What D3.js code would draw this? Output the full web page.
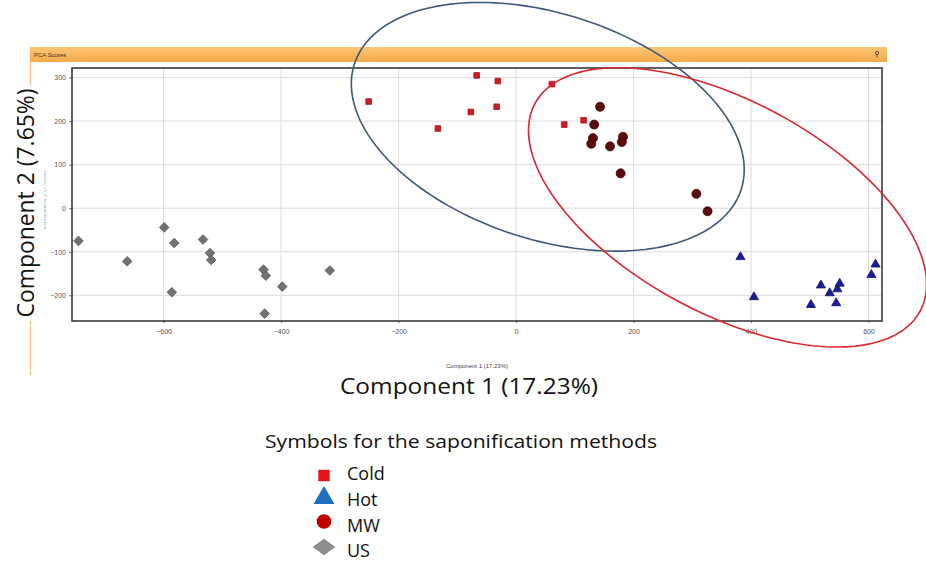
<!DOCTYPE html>
<html>
<head>
<meta charset="utf-8">
<script src="https://cdn.jsdelivr.net/npm/d3@7/dist/d3.min.js"></script>
<style>
  body { margin: 0; background: #fff; }
  svg { display: block; }
</style>
</head>
<body>
<script>
// PCA scores: [Component 1, Component 2]
const cold = [[-251, 245], [-133, 183], [-77, 221], [-67, 305], [-31, 292], [-33, 233], [61, 285], [82, 192], [115, 202]];
const hot = [[382, -112], [405, -204], [502, -222], [519, -177], [534, -195], [545, -218], [547, -186], [551, -173], [605, -153], [612, -129]];
const mw = [[143, 233], [133, 192], [131, 161], [128, 148], [160, 142], [182, 164], [180, 152], [178, 80], [307, 33], [326, -7]];
const us = [[-745, -75], [-662, -122], [-599, -44], [-582, -80], [-586, -193], [-533, -72], [-521, -103], [-519, -119],
            [-430, -141], [-426, -155], [-398, -180], [-428, -242], [-317, -143]];

const xTicks = [-600, -400, -200, 0, 200, 400, 600];
const yTicks = [-200, -100, 0, 100, 200, 300];

// grouping ellipses: centre and two conjugate semi-axis vectors, in data units
const ellipses = [
  { c: [54, 187], u: [329, -145], v: [-60, -246], color: "#3f5878" },
  { c: [360, 2], u: [328, -238], v: [-85, -215], color: "#d8262e" }
];

const legendNames = ["Cold", "Hot", "MW", "US"];

const w = 926, h = 565;
const svg = d3.select("body").append("svg").attr("width", w).attr("height", h);

const xScale = d3.scaleLinear().domain([-756, 623]).range([72, 882]);
const yScale = d3.scaleLinear().domain([-259, 322]).range([321, 68]);

// panel chrome
const grad = svg.append("defs").append("linearGradient")
  .attr("id", "bar").attr("x1", 0).attr("y1", 0).attr("x2", 0).attr("y2", 1);
grad.append("stop").attr("offset", "0%").attr("stop-color", "#fcc674");
grad.append("stop").attr("offset", "100%").attr("stop-color", "#f6a94a");

svg.append("line")
  .attr("x1", 30.5).attr("x2", 30.5).attr("y1", 47).attr("y2", 375)
  .attr("stroke", "#f6c57f").attr("stroke-width", 1.5);
svg.append("rect")
  .attr("x", 30).attr("y", 47).attr("width", 857).attr("height", 15)
  .attr("fill", "url(#bar)");
svg.append("text")
  .attr("x", 34).attr("y", 57)
  .attr("font-family", "Liberation Sans, sans-serif").attr("font-size", 6)
  .attr("fill", "#333").text("PCA Scores");
// pin icon
svg.append("circle").attr("cx", 877).attr("cy", 53).attr("r", 1.6)
  .attr("fill", "none").attr("stroke", "#333").attr("stroke-width", 0.8);
svg.append("line").attr("x1", 877).attr("x2", 877).attr("y1", 54.6).attr("y2", 57.5)
  .attr("stroke", "#333").attr("stroke-width", 0.8);

// grid
svg.append("g").selectAll("line").data(xTicks).enter().append("line")
  .attr("x1", d => xScale(d)).attr("x2", d => xScale(d))
  .attr("y1", yScale.range()[0]).attr("y2", yScale.range()[1])
  .attr("stroke", "#dcdcdc").attr("stroke-width", 1);
svg.append("g").selectAll("line").data(yTicks).enter().append("line")
  .attr("x1", xScale.range()[0]).attr("x2", xScale.range()[1])
  .attr("y1", d => yScale(d)).attr("y2", d => yScale(d))
  .attr("stroke", "#dcdcdc").attr("stroke-width", 1);

// axes
const xAxis = svg.append("g")
  .attr("transform", "translate(0," + yScale.range()[0] + ")")
  .call(d3.axisBottom(xScale).tickValues(xTicks).tickSize(2).tickSizeOuter(0));
const yAxis = svg.append("g")
  .attr("transform", "translate(" + xScale.range()[0] + ",0)")
  .call(d3.axisLeft(yScale).tickValues(yTicks).tickSize(3).tickSizeOuter(0));
[xAxis, yAxis].forEach(a => {
  a.select(".domain").remove();
  a.selectAll("text").attr("font-family", "Liberation Sans, sans-serif")
    .attr("font-size", 7).attr("fill", "#555");
  a.selectAll("line").attr("stroke", "#777");
});
xAxis.selectAll("text").attr("dy", "1.2em");

// frame
svg.append("rect")
  .attr("x", xScale.range()[0]).attr("y", yScale.range()[1])
  .attr("width", xScale.range()[1] - xScale.range()[0])
  .attr("height", yScale.range()[0] - yScale.range()[1])
  .attr("fill", "none").attr("stroke", "#3a3a3a").attr("stroke-width", 1.6);

// small axis titles
svg.append("text")
  .attr("x", 477).attr("y", 368).attr("text-anchor", "middle")
  .attr("font-family", "Liberation Sans, sans-serif").attr("font-size", 6)
  .attr("fill", "#444").text("Component 1 (17.23%)");
svg.append("text")
  .attr("transform", "translate(46,200) rotate(-90)").attr("text-anchor", "middle")
  .attr("font-family", "Liberation Sans, sans-serif").attr("font-size", 6)
  .attr("fill", "#999").text("Component 2 (7.65%)");

// points
function draw(data, type, size, fill, stroke, rot) {
  svg.append("g").selectAll("path").data(data).enter().append("path")
    .attr("d", d3.symbol().type(type).size(size))
    .attr("transform", d => "translate(" + xScale(d[0]) + "," + yScale(d[1]) + ")" + (rot ? " rotate(45)" : ""))
    .attr("fill", fill).attr("stroke", stroke).attr("stroke-width", 0.8);
}
draw(us, d3.symbolSquare, 46, "#727272", "#5a5a5a", true);
draw(cold, d3.symbolSquare, 32, "#cc1c25", "#a8141c", false);
draw(mw, d3.symbolCircle, 64, "#5c0a0c", "#3e0506", false);
draw(hot, d3.symbolTriangle, 36, "#1c1c96", "#10106e", false);

// ellipses
const line = d3.line().x(d => xScale(d[0])).y(d => yScale(d[1])).curve(d3.curveLinearClosed);
ellipses.forEach(e => {
  const pts = d3.range(0, 360, 2).map(a => {
    const t = a * Math.PI / 180;
    return [e.c[0] + e.u[0] * Math.cos(t) + e.v[0] * Math.sin(t),
            e.c[1] + e.u[1] * Math.cos(t) + e.v[1] * Math.sin(t)];
  });
  svg.append("path").attr("d", line(pts))
    .attr("fill", "none").attr("stroke", e.color).attr("stroke-width", 1.6);
});

// big axis titles
svg.append("rect").attr("x", 8).attr("y", 85).attr("width", 36).attr("height", 236).attr("fill", "#fff");
svg.append("text")
  .attr("transform", "translate(34,203) rotate(-90)").attr("text-anchor", "middle")
  .attr("font-family", "Open Sans, sans-serif").attr("font-size", 24)
  .attr("textLength", 229).attr("lengthAdjust", "spacingAndGlyphs")
  .attr("fill", "#111").text("Component 2 (7.65%)");
svg.append("text")
  .attr("x", 469).attr("y", 394).attr("text-anchor", "middle")
  .attr("font-family", "Open Sans, sans-serif").attr("font-size", 21)
  .attr("textLength", 258).attr("lengthAdjust", "spacingAndGlyphs")
  .attr("fill", "#111").text("Component 1 (17.23%)");

// legend
svg.append("text")
  .attr("x", 265).attr("y", 448)
  .attr("font-family", "Open Sans, sans-serif").attr("font-size", 19)
  .attr("textLength", 392).attr("lengthAdjust", "spacingAndGlyphs")
  .attr("fill", "#111").text("Symbols for the saponification methods");

const legendY = [480, 506, 532, 557];
const legendSym = [
  { type: d3.symbolSquare, size: 130, fill: "#e8141c", rot: false, y: 475.5 },
  { type: d3.symbolTriangle, size: 190, fill: "#1e6fc0", rot: false, y: 498 },
  { type: d3.symbolCircle, size: 170, fill: "#c00000", rot: false, y: 521.5 },
  { type: d3.symbolSquare, size: 260, fill: "#8c8c8c", rot: true, y: 547 }
];
const lg = svg.append("g").selectAll("g").data(legendNames).enter().append("g");
lg.append("path")
  .attr("d", (d, i) => d3.symbol().type(legendSym[i].type).size(legendSym[i].size)())
  .attr("transform", (d, i) => "translate(324," + legendSym[i].y + ")" + (legendSym[i].rot ? " scale(1,0.72) rotate(45)" : ""))
  .attr("fill", (d, i) => legendSym[i].fill);
lg.append("text")
  .attr("x", 347).attr("y", (d, i) => legendY[i])
  .attr("font-family", "Open Sans, sans-serif").attr("font-size", 18)
  .attr("fill", "#111").text(d => d);
</script>
</body>
</html>
